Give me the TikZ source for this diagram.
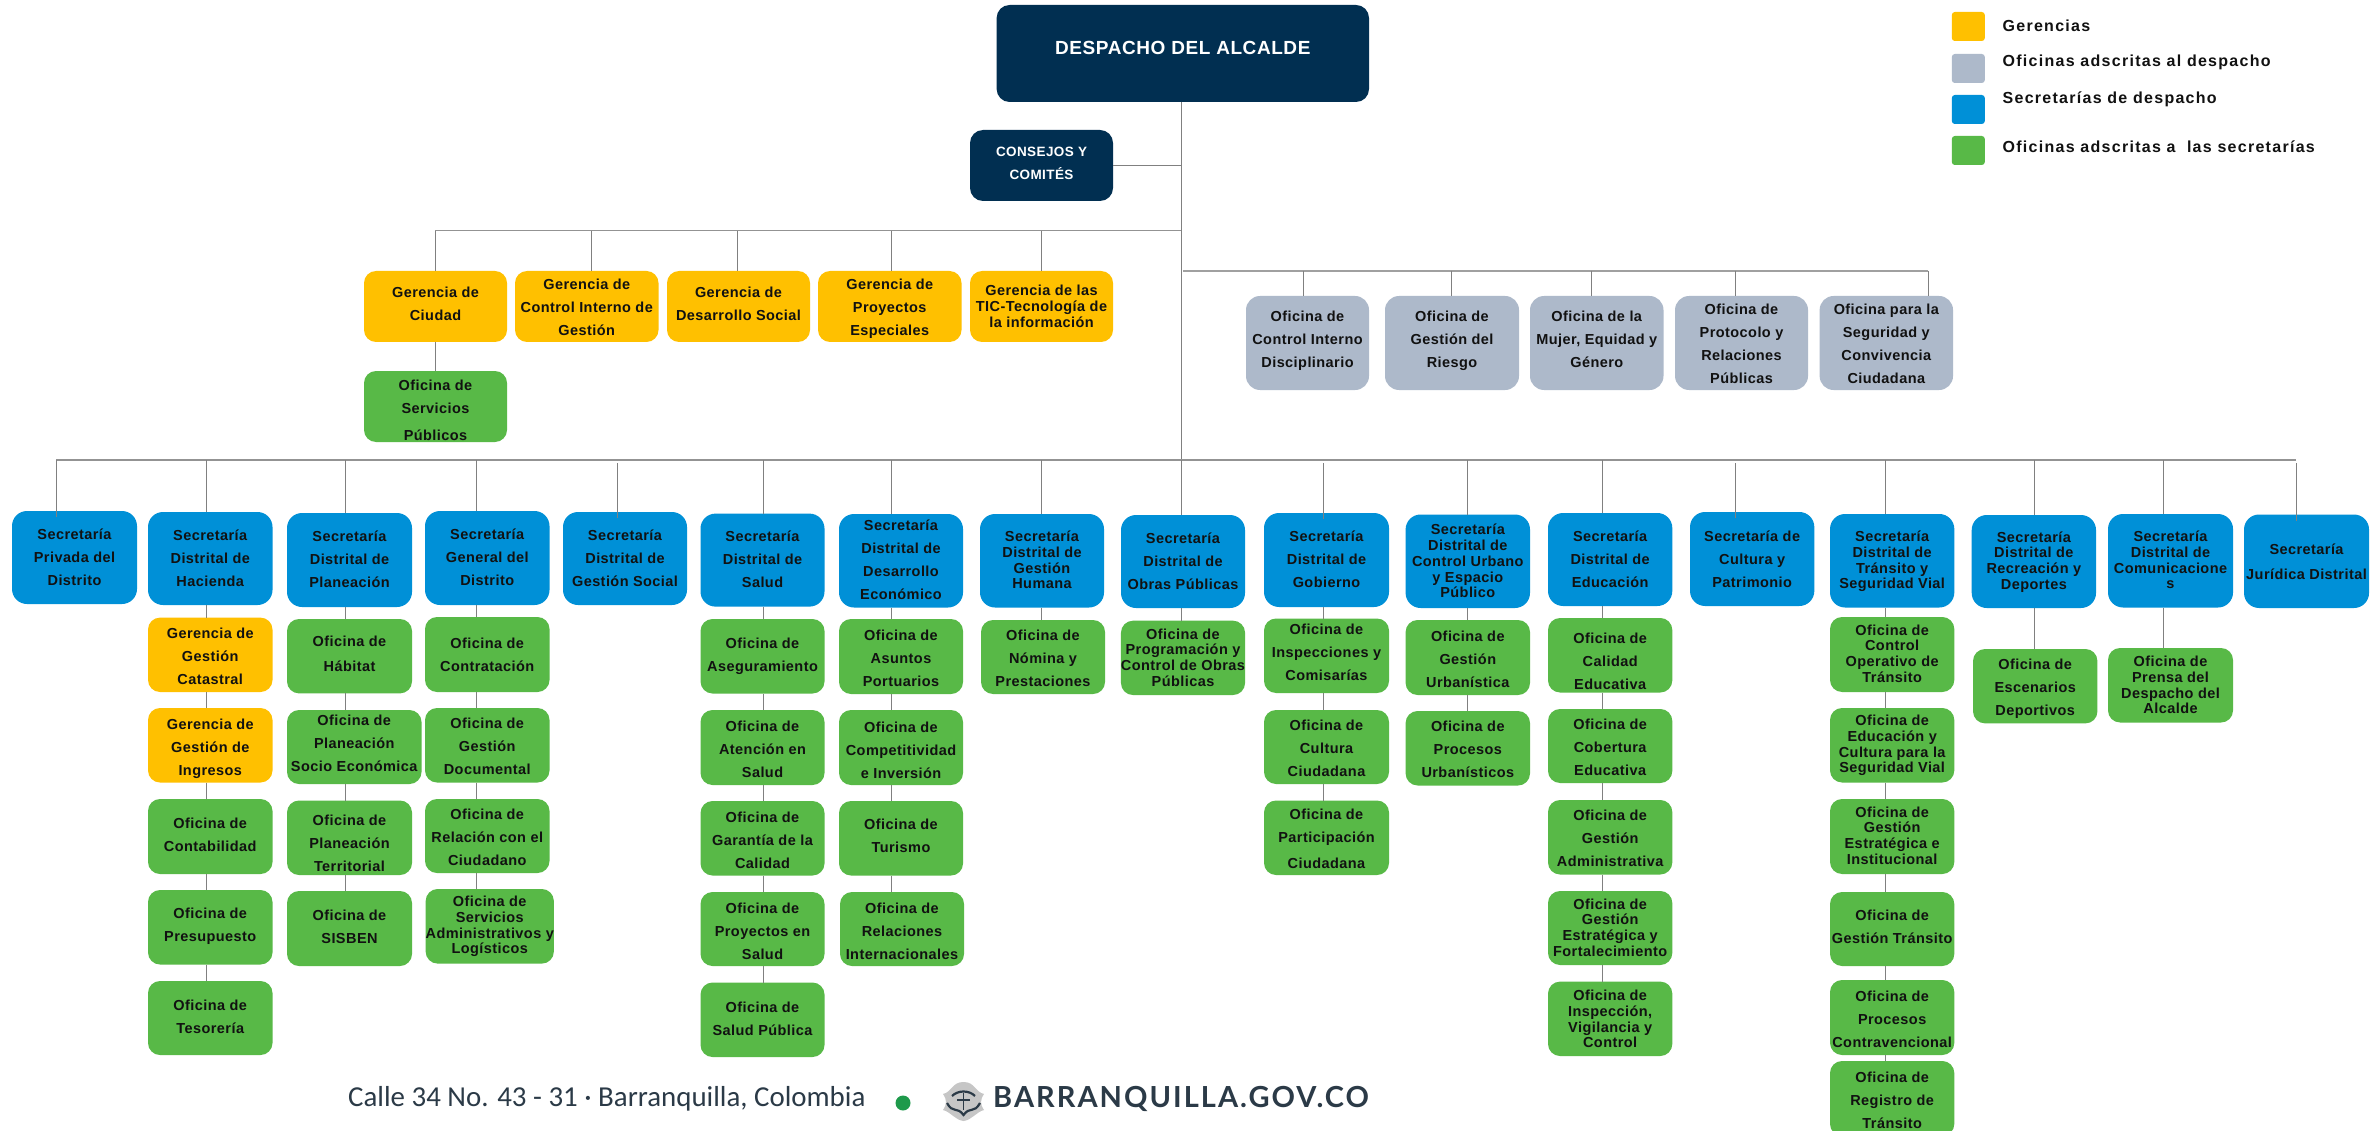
\documentclass[tikz,border=0pt]{standalone}
\usepackage{fontspec}
\setmainfont{Liberation Sans}
\newfontfamily\bxfont{Liberation Sans}[LetterSpace=3]
\newfontfamily\legfont{Liberation Sans}[LetterSpace=8]
\newfontfamily\footfont{Carlito}
\newfontfamily\webfont{Lato}[LetterSpace=7]
\definecolor{navy}{HTML}{012F51}
\definecolor{gold}{HTML}{FFC000}
\definecolor{slate}{HTML}{ADB9CA}
\definecolor{azure}{HTML}{0090D7}
\definecolor{leaf}{HTML}{58B947}
\definecolor{wire}{HTML}{808080}
\definecolor{ink}{HTML}{111111}
\definecolor{footer}{HTML}{2B3A47}
\definecolor{dot}{HTML}{1E9A4B}
\def\extradj{0}
\tikzset{
 base/.style={rectangle,inner sep=0pt,outer sep=0pt,align=center,text=ink},
 lo/.style={font=\bxfont\bfseries\fontsize{14.5}{23}\selectfont},
 ti/.style={font=\bxfont\bfseries\fontsize{14.5}{15.7}\selectfont,execute at begin node={\def\extradj{1}}},
 sec/.style={base,lo,fill=azure,rounded corners=15pt},
 ofi/.style={base,lo,fill=leaf,rounded corners=12pt},
 ger/.style={base,lo,fill=gold,rounded corners=12pt},
 ads/.style={base,lo,fill=slate,rounded corners=14pt},
 top/.style={base,fill=navy,rounded corners=13pt,text=white},
 swatch/.style={rectangle,inner sep=0pt,outer sep=0pt,rounded corners=3pt},
 legtext/.style={inner sep=0pt,outer sep=0pt,anchor=west,text=ink,font=\legfont\bfseries\fontsize{16}{18}\selectfont},
 conn/.style={draw=wire,line width=1pt},
 bus/.style={draw=wire!85,line width=1.6pt}
}
\newsavebox\tbox
\newcommand\dyshift[2]{\sbox\tbox{\begin{tabular}[t]{@{}c@{}}#2\end{tabular}}\raisebox{\dimexpr(\dp\tbox-\ht\tbox)/2-#1pt-\extradj pt\relax}[0pt][0pt]{\usebox\tbox}}
\newcommand\bx[8][0]{\node[#7,minimum width={(#5)-(#3)},minimum height={(#6)-(#4)}] (#2) at ({((#3)+(#5))/2},{((#4)+(#6))/2}) {\dyshift{#1}{#8}};}
\begin{document}
\begin{tikzpicture}[x=1pt,y=-1pt]
\useasboundingbox[fill=white] (0,0) rectangle (2376,1131);
% top
\bx[-3.5]{desp}{996.6}{5}{1369}{102}{top,font=\bxfont\bfseries\fontsize{19}{23}\selectfont}{DESPACHO DEL ALCALDE}
\bx[-2]{cons}{970}{130}{1113}{201}{top,font=\bxfont\bfseries\fontsize{13.5}{23}\selectfont}{CONSEJOS Y\\COMITÉS}
% gerencias
\bx[-1.7]{gCiu}{364}{271}{507}{342}{ger}{Gerencia de\\Ciudad}
\bx[1.8]{gCon}{515}{271}{658.5}{342}{ger}{Gerencia de\\Control Interno de\\Gestión}
\bx[-1.7]{gSoc}{667}{271}{810}{342}{ger}{Gerencia de\\Desarrollo Social}
\bx[1.8]{gPro}{818}{271}{961.5}{342}{ger}{Gerencia de\\Proyectos\\Especiales}
\bx[1]{gTic}{970}{271}{1113}{342}{ger,ti}{Gerencia de las\\TIC-Tecnología de\\la información}
\bx[4]{oSer}{364}{371}{507}{442}{ofi}{Oficina de\\Servicios\\[4pt]Públicos}
% adscritas
\bx[-3.5]{aDis}{1246}{296}{1369}{390}{ads}{Oficina de\\Control Interno\\Disciplinario}
\bx[-3.5]{aRie}{1385}{296}{1519}{390}{ads}{Oficina de\\Gestión del\\Riesgo}
\bx[-3.5]{aMuj}{1530}{296}{1663.5}{390}{ads}{Oficina de la\\Mujer, Equidad y\\Género}
\bx[1]{aPro}{1675}{296}{1808}{390}{ads}{Oficina de\\Protocolo y\\Relaciones\\Públicas}
\bx[1]{aSeg}{1819.6}{296}{1953}{390}{ads}{Oficina para la\\Seguridad y\\Convivencia\\Ciudadana}
% secretarias
\bx{sPri}{12}{511}{137}{604}{sec}{Secretaría\\Privada del\\Distrito}
\bx{sHac}{148}{512}{272.5}{605}{sec}{Secretaría\\Distrital de\\Hacienda}
\bx{sPla}{287}{513}{412}{607}{sec}{Secretaría\\Distrital de\\Planeación}
\bx{sGen}{425}{511}{549.5}{605}{sec}{Secretaría\\General del\\Distrito}
\bx{sSoc}{563}{512}{687}{605}{sec}{Secretaría\\Distrital de\\Gestión Social}
\bx{sSal}{700.5}{513.6}{824.5}{606.6}{sec}{Secretaría\\Distrital de\\Salud}
\bx{sDes}{839}{514}{963}{607.5}{sec}{Secretaría\\Distrital de\\Desarrollo\\Económico}
\bx[.4]{sHum}{980}{514}{1104}{607.5}{sec,ti}{Secretaría\\Distrital de\\Gestión\\Humana}
\bx{sObr}{1121}{515}{1245}{608}{sec}{Secretaría\\Distrital de\\Obras Públicas}
\bx{sGob}{1264}{513}{1389}{607}{sec}{Secretaría\\Distrital de\\Gobierno}
\bx[1]{sCon}{1405.6}{514.5}{1530}{608}{sec,ti}{Secretaría\\Distrital de\\Control Urbano\\y Espacio\\Público}
\bx{sEdu}{1548}{513}{1672.3}{606}{sec}{Secretaría\\Distrital de\\Educación}
\bx[.6]{sCul}{1690}{512}{1814.3}{606}{sec}{Secretaría de\\Cultura y\\Patrimonio}
\bx[.4]{sTra}{1830}{514}{1954.3}{607.5}{sec,ti}{Secretaría\\Distrital de\\Tránsito y\\Seguridad Vial}
\bx{sRec}{1971.7}{515}{2096}{608}{sec,ti}{Secretaría\\Distrital de\\Recreación y\\Deportes}
\bx[.4]{sCom}{2108}{514}{2233}{607.5}{sec,ti}{Secretaría\\Distrital de\\Comunicacione\\s}
\bx[.6]{sJur}{2244}{514.5}{2369}{608}{sec,font=\bxfont\bfseries\fontsize{14.5}{25}\selectfont}{Secretaría\\Jurídica Distrital}
% hacienda
\bx[2.4]{h1}{148}{617.6}{272.5}{692}{ger}{Gerencia de\\Gestión\\Catastral}
\bx[3]{h2}{148}{708}{272.5}{782.5}{ger}{Gerencia de\\Gestión de\\Ingresos}
\bx[-1]{h3}{148}{799}{272.5}{874}{ofi}{Oficina de\\Contabilidad}
\bx[-1.5]{h4}{148}{890}{272.5}{964.5}{ofi}{Oficina de\\Presupuesto}
\bx[-.5]{h5}{148}{981}{272.5}{1055}{ofi}{Oficina de\\Tesorería}
% planeacion
\bx[-2]{p1}{287}{619}{412}{693.4}{ofi}{Oficina de\\[2pt]Hábitat}
\bx[-3]{p2}{287}{710}{421.5}{784}{ofi}{Oficina de\\Planeación\\Socio Económica}
\bx[6.4]{p3}{287}{800.5}{412}{875}{ofi}{Oficina de\\Planeación\\Territorial}
\bx[-1]{p4}{287}{891}{412}{966}{ofi}{Oficina de\\SISBEN}
% general
\bx[.7]{g1}{425}{617}{549.5}{692}{ofi}{Oficina de\\Contratación}
\bx[2]{g2}{425}{708}{549.5}{782.5}{ofi}{Oficina de\\Gestión\\Documental}
\bx[2]{g3}{425}{799}{549.5}{873}{ofi}{Oficina de\\Relación con el\\Ciudadano}
\bx{g4}{427.5}{889}{552}{963.6}{ofi,ti}{Oficina de\\Servicios\\Administrativos y\\Logísticos}
% salud
\bx[-1.3]{a1}{700.5}{619}{824.5}{693.5}{ofi}{Oficina de\\Aseguramiento}
\bx[2.4]{a2}{700.5}{710}{824.5}{785}{ofi}{Oficina de\\Atención en\\Salud}
\bx[2.4]{a3}{700.5}{801}{824.5}{875.5}{ofi}{Oficina de\\Garantía de la\\Calidad}
\bx[2.4]{a4}{700.5}{892}{824.5}{966}{ofi}{Oficina de\\Proyectos en\\Salud}
\bx[-.7]{a5}{700.5}{982.5}{824.5}{1057}{ofi}{Oficina de\\Salud Pública}
% desarrollo
\bx[2.4]{d1}{839}{619}{963}{694}{ofi}{Oficina de\\Asuntos\\Portuarios}
\bx[2.9]{d2}{839}{710}{963}{785}{ofi}{Oficina de\\Competitividad\\e Inversión}
\bx[-1.5]{d3}{839}{801}{963}{875.5}{ofi}{Oficina de\\Turismo}
\bx[2.4]{d4}{840}{892}{964}{966}{ofi}{Oficina de\\Relaciones\\Internacionales}
% humana, obras
\bx[2]{u1}{981}{620}{1105}{694}{ofi}{Oficina de\\Nómina y\\Prestaciones}
\bx[.7]{o1}{1121}{620.7}{1245}{695}{ofi,ti}{Oficina de\\Programación y\\Control de Obras\\Públicas}
% gobierno
\bx[-2.6]{b1}{1264}{618.5}{1389}{693}{ofi}{Oficina de\\Inspecciones y\\Comisarías}
\bx[2.2]{b2}{1264}{710}{1389}{784}{ofi}{Oficina de\\Cultura\\Ciudadana}
\bx[1.8]{b3}{1264}{800.5}{1389}{875}{ofi}{Oficina de\\Participación\\[3pt]Ciudadana}
% control
\bx[2]{c1}{1405.6}{620}{1530}{695}{ofi}{Oficina de\\Gestión\\Urbanística}
\bx[2]{c2}{1405.6}{711}{1530}{785.5}{ofi}{Oficina de\\Procesos\\Urbanísticos}
% educacion
\bx[6.8]{e1}{1548}{618}{1672.3}{692.5}{ofi}{Oficina de\\Calidad\\Educativa}
\bx[2]{e2}{1548}{709}{1672.3}{783}{ofi}{Oficina de\\Cobertura\\Educativa}
\bx[2]{e3}{1548}{800}{1672.3}{874.5}{ofi}{Oficina de\\Gestión\\Administrativa}
\bx[.7]{e4}{1548}{891}{1672.3}{965}{ofi,ti}{Oficina de\\Gestión\\Estratégica y\\Fortalecimiento}
\bx[1.3]{e5}{1548}{981.6}{1672.3}{1056}{ofi,ti}{Oficina de\\Inspección,\\Vigilancia y\\Control}
% transito
\bx{t1}{1830}{617}{1954.3}{692}{ofi,ti}{Oficina de\\Control\\Operativo de\\Tránsito}
\bx{t2}{1830}{708}{1954.3}{782.5}{ofi,ti}{Oficina de\\Educación y\\Cultura para la\\Seguridad Vial}
\bx{t3}{1830}{799}{1954.3}{874}{ofi,ti}{Oficina de\\Gestión\\Estratégica e\\Institucional}
\bx[-1.3]{t4}{1830}{892}{1954.3}{966}{ofi}{Oficina de\\Gestión Tránsito}
\bx[2.6]{t5}{1830}{980}{1954.3}{1055}{ofi}{Oficina de\\Procesos\\Contravencional}
\bx[2.4]{t6}{1830}{1061}{1954.3}{1136}{ofi}{Oficina de\\Registro de\\Tránsito}
% recreacion, comunicaciones
\bx[2]{r1}{1973}{649}{2097.4}{723.4}{ofi}{Oficina de\\Escenarios\\Deportivos}
\bx[.9]{m1}{2108}{648}{2233}{722.5}{ofi,ti}{Oficina de\\Prensa del\\Despacho del\\Alcalde}
% buses
\coordinate (mainX) at (1181,102);
\coordinate (gerBusL) at (435.4,230.7);
\coordinate (gerBusR) at (1181,230.7);
\coordinate (adsBusL) at (1183,271);
\coordinate (adsBusR) at (1928,271);
\coordinate (secBusL) at (56,460);
\coordinate (secBusR) at (2296,460);
\coordinate (secBusM) at (1181,460);
\draw[conn] (desp.south -| mainX) -- (secBusM);
\draw[conn] (cons.east) -- (cons.east -| mainX);
\draw[bus] (gerBusL) -- (gerBusR);
\draw[bus,draw=wire!75,line width=2pt] (adsBusL) -- (adsBusR);
\draw[bus] (secBusL) -- (secBusR);
% gerencia drops
\foreach \n/\x in {gCiu/435.4,gCon/591,gSoc/737,gPro/891,gTic/1041.5}{
  \coordinate (dr) at (\x,230.7);
  \draw[conn] (dr) -- (\n.north -| dr);
}
\coordinate (drC) at (435.4,342);
\draw[conn] (gCiu.south -| drC) -- (oSer.north -| drC);
% adscritas drops
\foreach \n/\x in {aDis/1303.5,aRie/1451,aMuj/1591.6,aPro/1735.6,aSeg/1928}{
  \coordinate (dr) at (\x,271);
  \draw[conn] (dr) -- (\n.north -| dr);
}
% secretaria drops (touching)
\foreach \n/\x in {sHac/206.6,sPla/345.4,sGen/476,sSal/763,sDes/891,sHum/1041,sObr/1181,sCon/1467,sEdu/1602.5,sTra/1885.5,sRec/2034,sCom/2163}{
  \coordinate (dr) at (\x,460);
  \draw[conn] (dr) -- (\n.north -| dr);
}
% drops overlapping the box
\foreach \n/\x/\t in {sPri/56/460,sSoc/617/463,sGob/1323/463,sCul/1735/463,sJur/2296/463}{
  \coordinate (dr) at (\x,\t);
  \draw[conn] (dr) -- ([yshift=-6pt]\n.north -| dr);
}
% columns
\foreach \c/\x/\l in {
 sHac/206.6/{sHac/h1,h1/h2,h2/h3,h3/h4,h4/h5},
 sPla/345.4/{sPla/p1,p1/p2,p2/p3,p3/p4},
 sGen/476/{sGen/g1,g1/g2,g2/g3,g3/g4},
 sSal/763/{sSal/a1,a1/a2,a2/a3,a3/a4,a4/a5},
 sDes/891/{sDes/d1,d1/d2,d2/d3,d3/d4},
 sHum/1041/{sHum/u1},
 sObr/1181/{sObr/o1},
 sGob/1323/{sGob/b1,b1/b2,b2/b3},
 sCon/1467/{sCon/c1,c1/c2},
 sEdu/1602.5/{sEdu/e1,e1/e2,e2/e3,e3/e4,e4/e5},
 sTra/1885.5/{sTra/t1,t1/t2,t2/t3,t3/t4,t4/t5,t5/t6},
 sRec/2034/{sRec/r1},
 sCom/2163/{sCom/m1}}{
  \coordinate (cx) at (\x,0);
  \foreach \a/\b in \l { \draw[conn] (\a.south -| cx) -- (\b.north -| cx); }
}
% legend
\node[swatch,fill=gold,minimum width=33,minimum height=29] (k1) at (1968.3,26.5) {};
\node[swatch,fill=slate,minimum width=33,minimum height=29] (k2) at (1968.3,68.5) {};
\node[swatch,fill=azure,minimum width=33,minimum height=29] (k3) at (1968.3,109.5) {};
\node[swatch,fill=leaf,minimum width=33,minimum height=29] (k4) at (1968.3,150.5) {};
\node[legtext] (l1) at (2002.6,26) {Gerencias};
\node[legtext] (l2) at (2002.6,62) {Oficinas adscritas al despacho};
\node[legtext] (l3) at (2002.6,99) {Secretarías de despacho};
\node[legtext] (l4) at (2002.6,147) {Oficinas adscritas a\ \ las secretarías};
% footer
\node[inner sep=0pt,anchor=west,text=footer,font=\footfont\fontsize{28.9}{34}\selectfont] (foot) at (348,1099) {Calle 34 No. 43 - 31 · Barranquilla, Colombia};
\fill[dot] (903,1103) circle (7.5);
\node[inner sep=0pt,anchor=west,text=footer,font=\webfont\bfseries\fontsize{29}{34}\selectfont] (web) at (993,1099) {BARRANQUILLA.GOV.CO};
% crest
\fill[gray!45] (963.5,1082) .. controls (975,1082) and (975,1092) .. (984,1094) .. controls (980,1100) and (980,1104) .. (984,1110) .. controls (976,1112) and (972,1120) .. (963.5,1121) .. controls (955,1120) and (951,1112) .. (943,1110) .. controls (947,1104) and (947,1100) .. (943,1094) .. controls (952,1092) and (952,1082) .. (963.5,1082) -- cycle;
\draw[footer,line width=2.2pt] (952,1096) .. controls (958,1090) and (969,1090) .. (975,1096) (947,1103) .. controls (953,1114) and (957,1106) .. (963.5,1115) .. controls (970,1106) and (974,1114) .. (980,1103);
\draw[footer,line width=1.5pt] (957,1100) -- (970,1100) (963.5,1093) -- (963.5,1110);
\end{tikzpicture}
\end{document}
